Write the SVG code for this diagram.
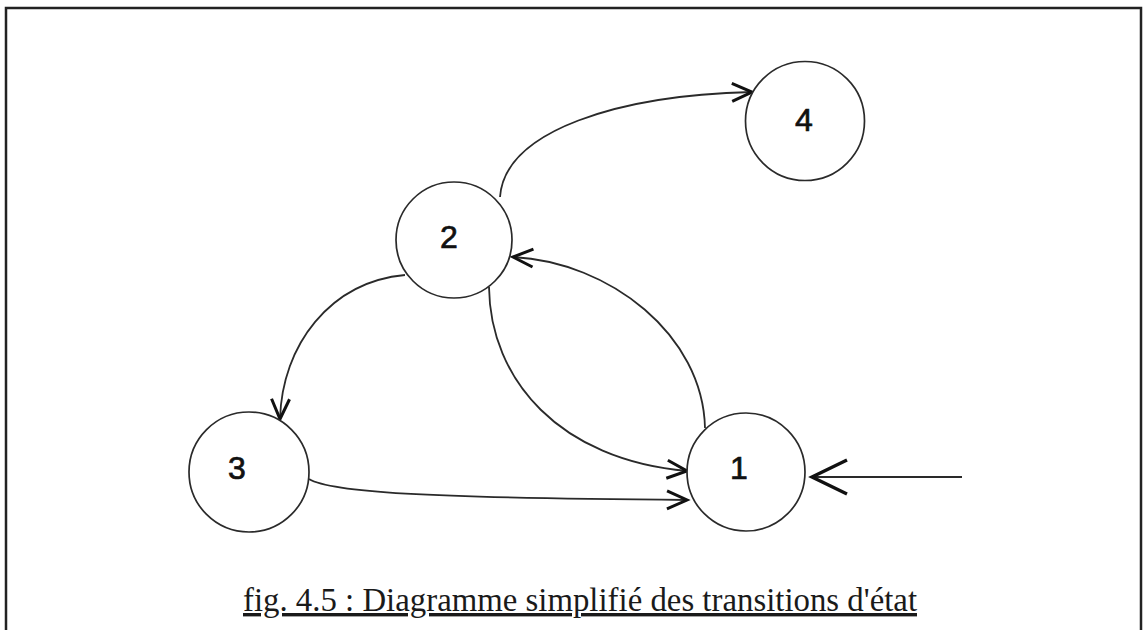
<svg xmlns="http://www.w3.org/2000/svg" width="1145" height="630" viewBox="0 0 1145 630">
<style>
.node circle{fill:#ffffff;stroke:#2a2a2a;stroke-width:1.7}
.node text{font-family:"Liberation Sans",Arial,sans-serif;font-size:32px;fill:#111;stroke:#111;stroke-width:0.7;text-anchor:middle}
.edge{fill:none;stroke:#2a2a2a;stroke-width:1.8}
.caption{font-family:"Liberation Serif","Times New Roman",serif;font-size:34px;fill:#1a1a1a;text-decoration:underline}
</style>
<defs>
<marker id="arr" markerUnits="userSpaceOnUse" markerWidth="40" markerHeight="40" viewBox="-30 -20 40 40" refX="0" refY="0" orient="auto" overflow="visible">
<path d="M-20,-9 L0,0 L-20,9" fill="none" stroke="#111" stroke-width="3" stroke-linejoin="miter"/>
</marker>
<marker id="bigarr" markerUnits="userSpaceOnUse" markerWidth="60" markerHeight="60" viewBox="-45 -30 60 60" refX="0" refY="0" orient="auto" overflow="visible">
<path d="M-35,-17 L0,0 L-35,17" fill="none" stroke="#111" stroke-width="3.4" stroke-linejoin="miter"/>
</marker>
</defs>
<rect width="1145" height="630" fill="#ffffff"/>
<path d="M6,630 L6,8 L1141,8 L1141,630" fill="none" stroke="#222" stroke-width="2.5"/>
<g id="connectors">
<path class="edge" d="M500,197 C505,130 620,95 752,92" marker-end="url(#arr)"/>
<path class="edge" d="M405,275 C330,282 282,345 280,419" marker-end="url(#arr)"/>
<path class="edge" d="M489,287 C490,380 560,460 687,471" marker-end="url(#arr)"/>
<path class="edge" d="M705,428 C703,335 610,262 513,257" marker-end="url(#arr)"/>
<path class="edge" d="M309,479 C330,492 420,498 687,500" marker-end="url(#arr)"/>
<path class="edge" d="M962,477 L812,477" stroke-width="3.2" marker-end="url(#bigarr)"/>
</g>
<g id="node4" class="node"><circle cx="805" cy="121" r="59.5"/><text x="804" y="131">4</text></g>
<g id="node2" class="node"><circle cx="454" cy="240" r="58"/><text x="449" y="248">2</text></g>
<g id="node3" class="node"><circle cx="249" cy="472" r="60"/><text x="237" y="479">3</text></g>
<g id="node1" class="node"><circle cx="746" cy="472" r="59"/><text x="739" y="479">1</text></g>
<text class="caption" x="243" y="611" textLength="674" lengthAdjust="spacingAndGlyphs">fig. 4.5 : Diagramme simplifié des transitions d'état</text>
</svg>
